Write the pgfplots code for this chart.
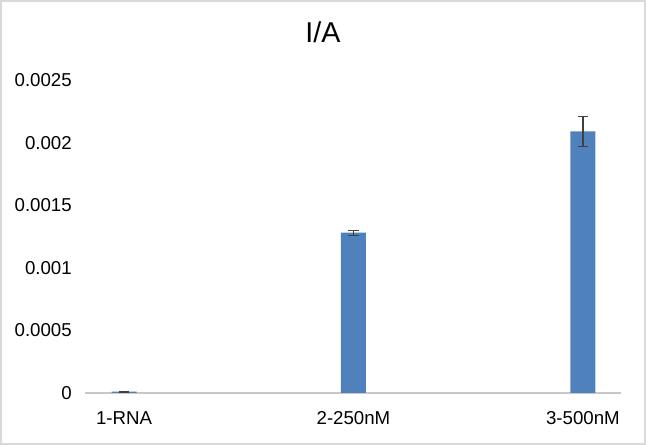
\documentclass[border=0pt]{standalone}
\usepackage{fontspec}
\setmainfont{Liberation Sans}
\usepackage{pgfplots}
\pgfplotsset{compat=1.18}
\definecolor{barblue}{HTML}{4F81BD}
\definecolor{axgray}{HTML}{C8C8C8}
\definecolor{framegray}{HTML}{D9D9D9}
\definecolor{errgray}{HTML}{404040}
\begin{document}
\begin{tikzpicture}
\useasboundingbox (-63.75pt,-39pt) rectangle (420.75pt,294.75pt);
\draw[framegray, line width=1.2pt] (-63.15pt,-38.4pt) rectangle (420.15pt,294.15pt);
\begin{axis}[
  at={(0,0)}, anchor=south west,
  scale only axis, width=402pt, height=234.75pt,
  xmin=0.83, xmax=3.166, ymin=0, ymax=0.0025,
  axis x line*=bottom, axis y line*=left,
  x axis line style={axgray, line width=0.9pt, -},
  y axis line style={draw=none},
  scaled y ticks=false,
  xtick={1,2,3}, xticklabels={1-RNA,2-250nM,3-500nM},
  xtick style={draw=none}, ytick style={draw=none},
  ytick={0,0.0005,0.001,0.0015,0.002,0.0025},
  yticklabels={0,0.0005,0.001,0.0015,0.002,0.0025},
  every tick label/.append style={font=\fontsize{14}{16}\selectfont, text=black},
  yticklabel style={anchor=east, inner sep=0pt, xshift=-9.75pt},
  xticklabel style={anchor=north, inner sep=0pt, yshift=-14pt},
  /pgf/number format/assume math mode=true,
  clip=false,
]
\addplot[ybar, bar width=18.75pt, fill=barblue, draw=none,
  error bars/.cd, y dir=both, y explicit,
  error bar style={errgray, line width=0.9pt},
  error mark options={rotate=90, mark size=4pt, errgray, line width=0.9pt}]
  coordinates {
    (1,0.00001) +- (0,0.000005)
    (2,0.00128) +- (0,0.00002)
    (3,0.00209) +- (0,0.00012)
  };
\end{axis}
\node[anchor=base, inner sep=0pt, font=\fontsize{21.5}{24}\selectfont] at (178.5pt,262.5pt) {I/A};
\end{tikzpicture}
\end{document}
